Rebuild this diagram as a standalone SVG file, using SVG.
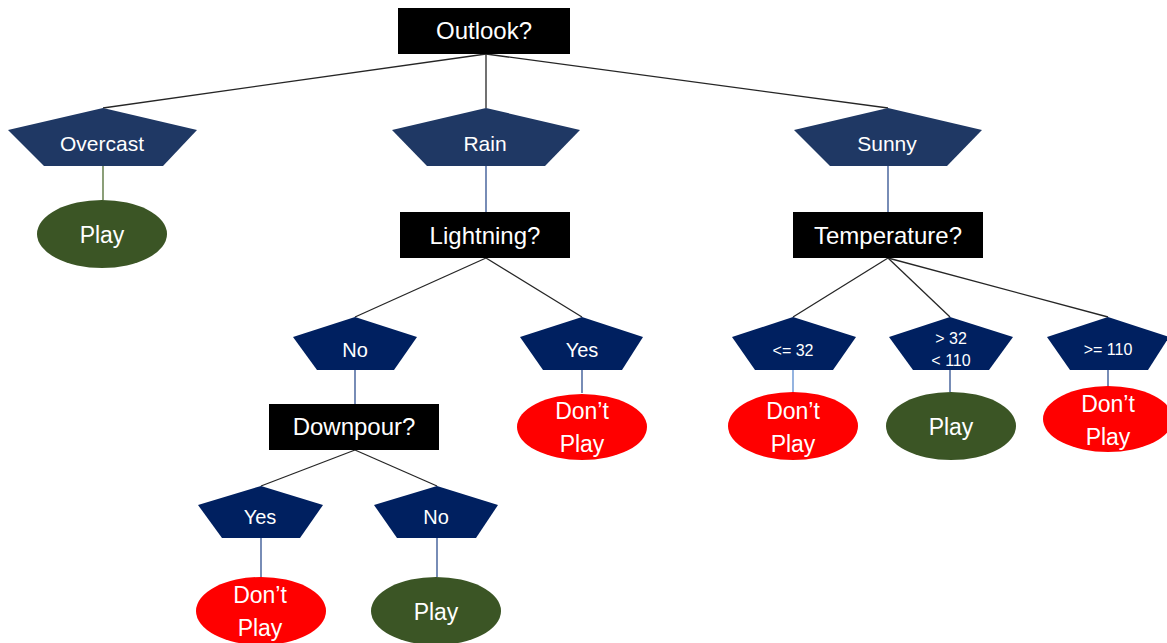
<svg xmlns="http://www.w3.org/2000/svg" width="1167" height="643" viewBox="0 0 1167 643">
<style>
.box{fill:#000000}
.pt{fill:#1F3864}
.pb{fill:#002060}
.go{fill:#3B5525}
.ro{fill:#FF0000}
text{font-family:"Liberation Sans",Arial,sans-serif;fill:#FFFFFF;text-anchor:middle}
.t1{font-size:24px}
.t2{font-size:21px}
.t5{font-size:20px}
.t3{font-size:23px}
.t4{font-size:16px}
.c{stroke:#262626;stroke-width:1.3;fill:none}
.cb{stroke:#2F4F8F;stroke-width:1.3;fill:none}
.cl{stroke:#5B8BD0;stroke-width:1.3;fill:none}
.cg{stroke:#4E6B30;stroke-width:1.3;fill:none}
</style>
<rect width="1167" height="643" fill="#FFFFFF"/>
<g id="connectors">
<line class="c" x1="486" y1="54" x2="103" y2="108"/>
<line class="c" x1="486" y1="54" x2="486" y2="108"/>
<line class="c" x1="486" y1="54" x2="888" y2="108"/>
<line class="cg" x1="103" y1="166" x2="103" y2="200"/>
<line class="cb" x1="486" y1="166" x2="486" y2="212"/>
<line class="cb" x1="888" y1="166" x2="888" y2="212"/>
<line class="c" x1="486" y1="258" x2="355" y2="317"/>
<line class="c" x1="486" y1="258" x2="582" y2="317"/>
<line class="cb" x1="355" y1="370" x2="355" y2="404"/>
<line class="cb" x1="582" y1="370" x2="582" y2="393"/>
<line class="c" x1="355" y1="450" x2="261" y2="486"/>
<line class="c" x1="355" y1="450" x2="437" y2="486"/>
<line class="cb" x1="261" y1="538" x2="261" y2="577"/>
<line class="cb" x1="437" y1="538" x2="437" y2="577"/>
<line class="c" x1="888" y1="258" x2="793" y2="317"/>
<line class="c" x1="888" y1="258" x2="950" y2="317"/>
<line class="c" x1="888" y1="258" x2="1108" y2="317"/>
<line class="cl" x1="793" y1="370" x2="793" y2="392"/>
<line class="cb" x1="950" y1="370" x2="950" y2="392"/>
<line class="cb" x1="1108" y1="370" x2="1108" y2="386"/>
</g>
<g id="outlook"><rect class="box" x="398" y="8" width="172" height="46"/><text class="t1" x="484" y="39">Outlook?</text></g>
<g id="overcast"><polygon class="pt" points="103,108 197,130 163,166 44,166 8,130"/><text class="t2" x="102" y="151">Overcast</text></g>
<g id="rain"><polygon class="pt" points="486,108 580,130 545,166 427,166 392,130"/><text class="t2" x="485" y="151">Rain</text></g>
<g id="sunny"><polygon class="pt" points="888,108 982,130 947,166 830,166 794,130"/><text class="t2" x="887" y="151">Sunny</text></g>
<g id="play-overcast"><ellipse class="go" cx="102" cy="234" rx="65" ry="34"/><text class="t3" x="102" y="243">Play</text></g>
<g id="lightning"><rect class="box" x="400" y="212" width="170" height="46"/><text class="t1" x="485" y="244">Lightning?</text></g>
<g id="temperature"><rect class="box" x="793" y="212" width="190" height="46"/><text class="t1" x="888" y="244">Temperature?</text></g>
<g id="lightning-no"><polygon class="pb" points="355,317 417,337 394,370 317,370 293,337"/><text class="t5" x="355" y="357">No</text></g>
<g id="lightning-yes"><polygon class="pb" points="582,317 643,337 622,370 543,370 520,337"/><text class="t5" x="582" y="357">Yes</text></g>
<g id="dontplay-lightning"><ellipse class="ro" cx="582" cy="427" rx="65" ry="33"/><text class="t3" x="582" y="419">Don’t</text><text class="t3" x="582" y="452">Play</text></g>
<g id="downpour"><rect class="box" x="269" y="404" width="170" height="46"/><text class="t1" x="354" y="435">Downpour?</text></g>
<g id="downpour-yes"><polygon class="pb" points="261,486 323,505 300,538 222,538 198,505"/><text class="t5" x="260" y="524">Yes</text></g>
<g id="downpour-no"><polygon class="pb" points="437,486 498,505 476,538 397,538 374,505"/><text class="t5" x="436" y="524">No</text></g>
<g id="dontplay-downpour"><ellipse class="ro" cx="261" cy="611" rx="65" ry="34"/><text class="t3" x="260" y="603">Don’t</text><text class="t3" x="260" y="636">Play</text></g>
<g id="play-downpour"><ellipse class="go" cx="436" cy="611" rx="65" ry="34"/><text class="t3" x="436" y="620">Play</text></g>
<g id="temp-low"><polygon class="pb" points="793,317 856,337 833,370 755,370 732,337"/><text class="t4" x="793" y="356">&lt;= 32</text></g>
<g id="temp-mid"><polygon class="pb" points="950,317 1013,337 989,370 913,370 889,337"/><text class="t4" x="951" y="344">&gt; 32</text><text class="t4" x="951" y="366">&lt; 110</text></g>
<g id="temp-high"><polygon class="pb" points="1108,317 1169,337 1148,370 1070,370 1047,337"/><text class="t4" x="1108" y="355">&gt;= 110</text></g>
<g id="dontplay-low"><ellipse class="ro" cx="793" cy="426" rx="65" ry="34"/><text class="t3" x="793" y="419">Don’t</text><text class="t3" x="793" y="452">Play</text></g>
<g id="play-mid"><ellipse class="go" cx="951" cy="426" rx="65" ry="34"/><text class="t3" x="951" y="435">Play</text></g>
<g id="dontplay-high"><ellipse class="ro" cx="1108" cy="419" rx="65" ry="33"/><text class="t3" x="1108" y="412">Don’t</text><text class="t3" x="1108" y="445">Play</text></g>
</svg>
